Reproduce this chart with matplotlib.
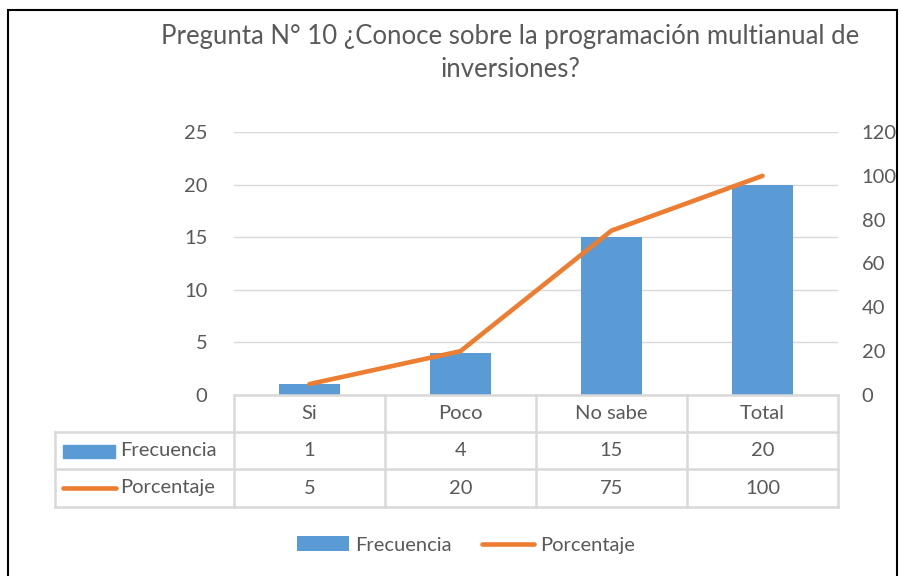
import matplotlib
matplotlib.use("Agg")
import matplotlib.pyplot as plt
from matplotlib.patches import Rectangle
from matplotlib.lines import Line2D

categories = ["Si", "Poco", "No sabe", "Total"]
frecuencia = [1, 4, 15, 20]
porcentaje = [5, 20, 75, 100]
left_ticks = [0, 5, 10, 15, 20, 25]
right_ticks = [0, 20, 40, 60, 80, 100, 120]
title = "Pregunta N° 10 ¿Conoce sobre la programación multianual de\ninversiones?"

BLUE = "#5B9BD5"
ORANGE = "#ED7D31"
GRID = "#D9D9D9"
TXT = "#595959"
FONT = "Lato"
FS = 14.5
W, H = 901, 576

plt.rcParams['font.family'] = [FONT, 'DejaVu Sans']
fig = plt.figure(figsize=(W / 100, H / 100), dpi=100)

def fx(px):
    return px / W

def fy(py):
    return 1 - py / H

# outer frame
fig.add_artist(Rectangle((fx(8), fy(590)), fx(897) - fx(8), fy(10) - fy(590),
                         transform=fig.transFigure, fill=False, ec="black", lw=1.5))

ax_l, ax_r, ax_b, ax_t = 234, 838, 395, 132
ax = fig.add_axes([fx(ax_l), fy(ax_b), fx(ax_r) - fx(ax_l), fy(ax_t) - fy(ax_b)])
x = range(len(categories))
bars = ax.bar(x, frecuencia, width=0.4, color=BLUE, zorder=3, label="Frecuencia")
ax.set_xlim(-0.5, len(categories) - 0.5)
ax.set_ylim(0, 25)
ax.set_yticks(left_ticks)
ax.yaxis.grid(True, color=GRID, lw=1, zorder=0)
ax.set_xticks([])
for s in ax.spines.values():
    s.set_visible(False)
ax.tick_params(axis='y', length=0, labelsize=FS, labelcolor=TXT, pad=19)

ax2 = ax.twinx()
line, = ax2.plot(x, porcentaje, color=ORANGE, lw=3.3, solid_capstyle='round',
                 zorder=4, label="Porcentaje")
ax2.set_ylim(0, 120)
ax2.set_yticks(right_ticks)
for s in ax2.spines.values():
    s.set_visible(False)
ax2.tick_params(axis='y', length=0, labelsize=FS, labelcolor=TXT, pad=17)

# data table
col_edges = [ax_l + i * (ax_r - ax_l) / len(categories) for i in range(len(categories) + 1)]
row_edges = [395, 432, 469, 507]
tbl_left = 55

def hline(x0, x1, y):
    fig.add_artist(Line2D([fx(x0), fx(x1)], [fy(y), fy(y)], transform=fig.transFigure,
                          color=GRID, lw=1.8))

def vline(xp, y0, y1):
    fig.add_artist(Line2D([fx(xp), fx(xp)], [fy(y0), fy(y1)], transform=fig.transFigure,
                          color=GRID, lw=1.8))

hline(ax_l, ax_r, row_edges[0])
for y in row_edges[1:]:
    hline(tbl_left, ax_r, y)
for xp in col_edges:
    vline(xp, row_edges[0], row_edges[-1])
vline(tbl_left, row_edges[1], row_edges[-1])

def rowc(i):
    return (row_edges[i] + row_edges[i + 1]) / 2

for j, cat in enumerate(categories):
    cx = (col_edges[j] + col_edges[j + 1]) / 2
    fig.text(fx(cx), fy(rowc(0)), cat, ha='center', va='center', fontsize=FS, color=TXT)
    fig.text(fx(cx), fy(rowc(1)), str(frecuencia[j]), ha='center', va='center', fontsize=FS, color=TXT)
    fig.text(fx(cx), fy(rowc(2)), str(porcentaje[j]), ha='center', va='center', fontsize=FS, color=TXT)

# row labels with keys
fig.add_artist(Rectangle((fx(63), fy(458)), fx(115) - fx(63), fy(445) - fy(458),
                         transform=fig.transFigure, color=BLUE))
fig.text(fx(120), fy(rowc(1)), "Frecuencia", ha='left', va='center', fontsize=FS, color=TXT)
fig.add_artist(Line2D([fx(63), fx(116)], [fy(rowc(2)), fy(rowc(2))], transform=fig.transFigure,
                      color=ORANGE, lw=3.3, solid_capstyle='round'))
fig.text(fx(120), fy(rowc(2)), "Porcentaje", ha='left', va='center', fontsize=FS, color=TXT)

# title
fig.text(fx(510), fy(53), title, ha='center', va='center', fontsize=18.5, color=TXT,
         linespacing=1.4)

# legend
leg = fig.legend(handles=[bars, line], labels=["Frecuencia", "Porcentaje"],
                 loc='center', bbox_to_anchor=(fx(466), fy(545)), ncol=2, frameon=False,
                 fontsize=FS, handlelength=2.6, handleheight=0.7, handletextpad=0.3,
                 columnspacing=1.5)
for t in leg.get_texts():
    t.set_color(TXT)

fig.savefig("out.png", dpi=100)
